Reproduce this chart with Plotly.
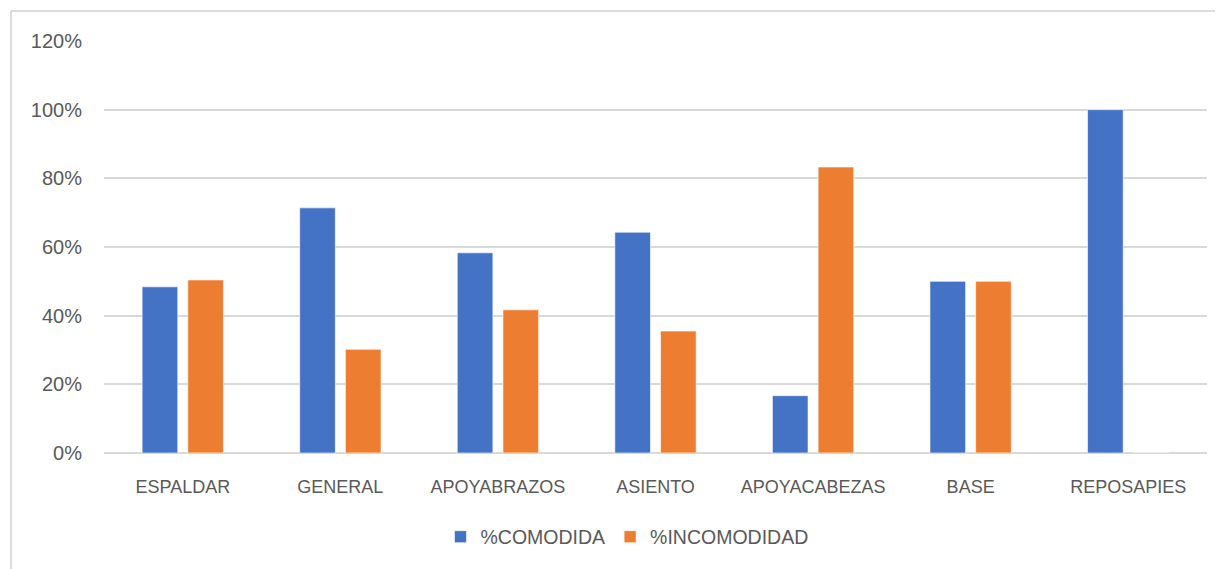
import plotly.graph_objects as go

categories = ["ESPALDAR", "GENERAL", "APOYABRAZOS", "ASIENTO", "APOYACABEZAS", "BASE", "REPOSAPIES"]
comodidad = [0.484, 0.714, 0.583, 0.643, 0.167, 0.50, 1.00]
incomodidad = [0.504, 0.302, 0.417, 0.355, 0.833, 0.50, 0.0]
y_ticks = [0, 0.2, 0.4, 0.6, 0.8, 1.0, 1.2]
y_tick_labels = ["0%", "20%", "40%", "60%", "80%", "100%", "120%"]

OFF = 8  # default page body margin
W, H = 1223 - OFF, 569 - OFF
L, R, T, B = 104 - OFF, 16, 41 - OFF, 116
pw, ph = W - L - R, H - T - B

fig = go.Figure()
fig.add_trace(go.Bar(name="%COMODIDA", x=categories, y=comodidad,
                     marker=dict(color="#4472C4", line=dict(color="rgba(255,255,255,0.6)", width=1))))
fig.add_trace(go.Bar(name="%INCOMODIDAD", x=categories, y=incomodidad,
                     marker=dict(color="#ED7D31", line=dict(color="rgba(255,255,255,0.6)", width=1))))

font_family = "Liberation Sans, Arial, sans-serif"
FS = 18
fig.update_layout(
    width=W, height=H,
    margin=dict(l=L, r=R, t=T, b=B, pad=0),
    paper_bgcolor="white", plot_bgcolor="white",
    barmode="group", bargap=0.42, bargroupgap=0.22,
    font=dict(family=font_family, size=FS, color="#595959"),
    showlegend=True,
    legend=dict(orientation="h", x=(627 - 104) / pw, xanchor="center", y=(453 - 537) / ph, yanchor="middle",
                font=dict(size=19.5, color="#595959"), itemwidth=30, traceorder="normal"),
    xaxis=dict(showgrid=False, showline=False, ticks="", ticklabelstandoff=21,
               tickfont=dict(size=FS, color="#595959")),
    yaxis=dict(range=[0, 1.2], tickvals=y_ticks, ticktext=y_tick_labels,
               showgrid=True, gridcolor="#d9d9d9", gridwidth=1.5,
               zeroline=True, zerolinecolor="#d9d9d9", zerolinewidth=1.5,
               showline=False, ticks="", ticklabelstandoff=21,
               tickfont=dict(size=20, color="#595959")),
)

# outer chart frame (top and left edges visible in the reference)
fx, fy = 11 - OFF, 11 - OFF
x_left = (fx - L) / pw
x_right = (W - L) / pw
y_top = 1 + (T - fy) / ph
y_bot = -(H - (T + ph)) / ph
fig.add_shape(type="line", xref="paper", yref="paper", x0=x_left, x1=x_right, y0=y_top, y1=y_top,
              line=dict(color="#d0d0d0", width=1.5))
fig.add_shape(type="line", xref="paper", yref="paper", x0=x_left, x1=x_left, y0=y_bot, y1=y_top,
              line=dict(color="#d0d0d0", width=1.5))

fig.write_html("out.html")
